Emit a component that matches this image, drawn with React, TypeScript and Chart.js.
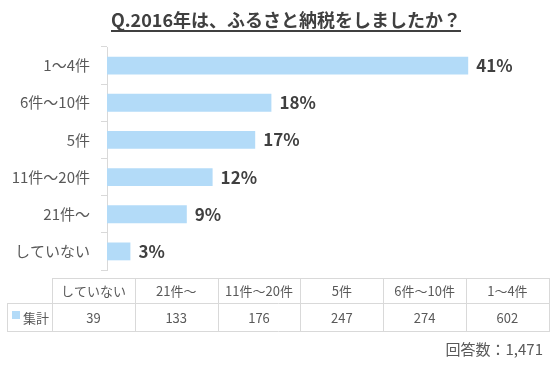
import React, { useEffect, useRef } from 'react';
import { Chart, registerables } from 'chart.js';

Chart.register(...registerables);

const titleText = 'Q.2016年は、ふるさと納税をしましたか？';
const categories = ['1〜4件', '6件〜10件', '5件', '11件〜20件', '21件〜', 'していない'];
const counts = [602, 274, 247, 176, 133, 39];
const percentLabels = ['41%', '18%', '17%', '12%', '9%', '3%'];
const seriesName = '集計';
const footerText = '回答数：1,471';
const xMax = 700;

const BAR_COLOR = '#b3dbf8';
const LINE_COLOR = '#d9d9d9';
const TEXT_DARK = '#404040';
const TEXT_MID = '#595959';
const JP = '"Noto Sans CJK JP", "Noto Sans", sans-serif';

const overlayPlugin = {
  id: 'overlay',
  afterDatasetsDraw(chart: any) {
    const ctx = chart.ctx;
    const meta = chart.getDatasetMeta(0);
    ctx.save();
    ctx.font = `bold 17px ${JP}`;
    ctx.fillStyle = TEXT_DARK;
    ctx.textAlign = 'left';
    ctx.textBaseline = 'middle';
    meta.data.forEach((bar: any, i: number) => {
      ctx.fillText(percentLabels[i], bar.x + 8, bar.y);
    });
    ctx.restore();
  },
  afterDraw(chart: any) {
    const ctx = chart.ctx;
    ctx.save();
    // Title with underline
    ctx.font = `bold 18px ${JP}`;
    ctx.fillStyle = TEXT_DARK;
    ctx.textAlign = 'center';
    ctx.textBaseline = 'alphabetic';
    const tx = 286;
    ctx.fillText(titleText, tx, 27);
    const tw = ctx.measureText(titleText).width;
    ctx.fillRect(Math.round(tx - tw / 2), 30, Math.round(tw), 2);

    // Data table
    const tableCats = categories.slice().reverse();
    const tableVals = counts.slice().reverse();
    const x0 = 52;
    const colW = 82.8;
    const xEnd = 550;
    const yTop = 278;
    const yMid = 303;
    const yBot = 331;
    ctx.strokeStyle = LINE_COLOR;
    ctx.lineWidth = 1;
    ctx.beginPath();
    ctx.moveTo(x0, yTop + 0.5); ctx.lineTo(xEnd, yTop + 0.5);
    ctx.moveTo(7, yMid + 0.5); ctx.lineTo(xEnd, yMid + 0.5);
    ctx.moveTo(7, yBot + 0.5); ctx.lineTo(xEnd, yBot + 0.5);
    ctx.moveTo(7.5, yMid); ctx.lineTo(7.5, yBot + 1);
    for (let i = 0; i <= tableCats.length; i++) {
      const x = Math.round(x0 + i * colW) + 0.5;
      ctx.moveTo(x, yTop); ctx.lineTo(x, yBot + 1);
    }
    ctx.stroke();

    ctx.fillStyle = TEXT_MID;
    ctx.font = `13px ${JP}`;
    ctx.textAlign = 'center';
    ctx.textBaseline = 'middle';
    tableCats.forEach((c, i) => {
      const cx = x0 + (i + 0.5) * colW;
      ctx.fillText(c, cx, (yTop + yMid) / 2 + 1);
      ctx.fillText(String(tableVals[i]), cx, (yMid + yBot) / 2 + 1);
    });
    // legend key
    ctx.fillStyle = BAR_COLOR;
    ctx.fillRect(12, 311, 8, 8);
    ctx.fillStyle = TEXT_MID;
    ctx.textAlign = 'left';
    ctx.fillText(seriesName, 23, (yMid + yBot) / 2 + 1);

    // footer
    ctx.font = `15px ${JP}`;
    ctx.textAlign = 'right';
    ctx.fillText(footerText, 543, 349);
    ctx.restore();
  },
};

export default function App() {
  const ref = useRef<HTMLCanvasElement | null>(null);
  useEffect(() => {
    if (!ref.current) return;
    const chart = new Chart(ref.current, {
      type: 'bar',
      data: {
        labels: categories,
        datasets: [
          {
            label: seriesName,
            data: counts,
            backgroundColor: BAR_COLOR,
            borderWidth: 0,
            barPercentage: 0.48,
            categoryPercentage: 1,
          },
        ],
      },
      options: {
        indexAxis: 'y',
        responsive: false,
        maintainAspectRatio: false,
        animation: false,
        devicePixelRatio: 1,
        layout: { padding: { left: 0, top: 47, right: 23, bottom: 101 } },
        plugins: {
          legend: { display: false },
          title: { display: false },
          tooltip: { enabled: false },
        },
        scales: {
          x: { display: false, min: 0, max: xMax },
          y: {
            afterFit: (s: any) => {
              s.width = 107;
            },
            border: { display: true, color: LINE_COLOR, width: 1 },
            grid: {
              display: true,
              drawOnChartArea: false,
              drawTicks: true,
              tickLength: 6,
              color: LINE_COLOR,
              offset: true,
            },
            ticks: {
              color: TEXT_MID,
              font: { family: JP, size: 15 },
              padding: 11,
            },
          },
        },
      },
      plugins: [overlayPlugin],
    } as any);
    return () => chart.destroy();
  }, []);
  return (
    <div style={{ position: 'absolute', left: 0, top: 0, width: 550, height: 371, background: '#fff' }}>
      <canvas ref={ref} width={550} height={371} style={{ width: 550, height: 371, display: 'block' }} />
    </div>
  );
}
